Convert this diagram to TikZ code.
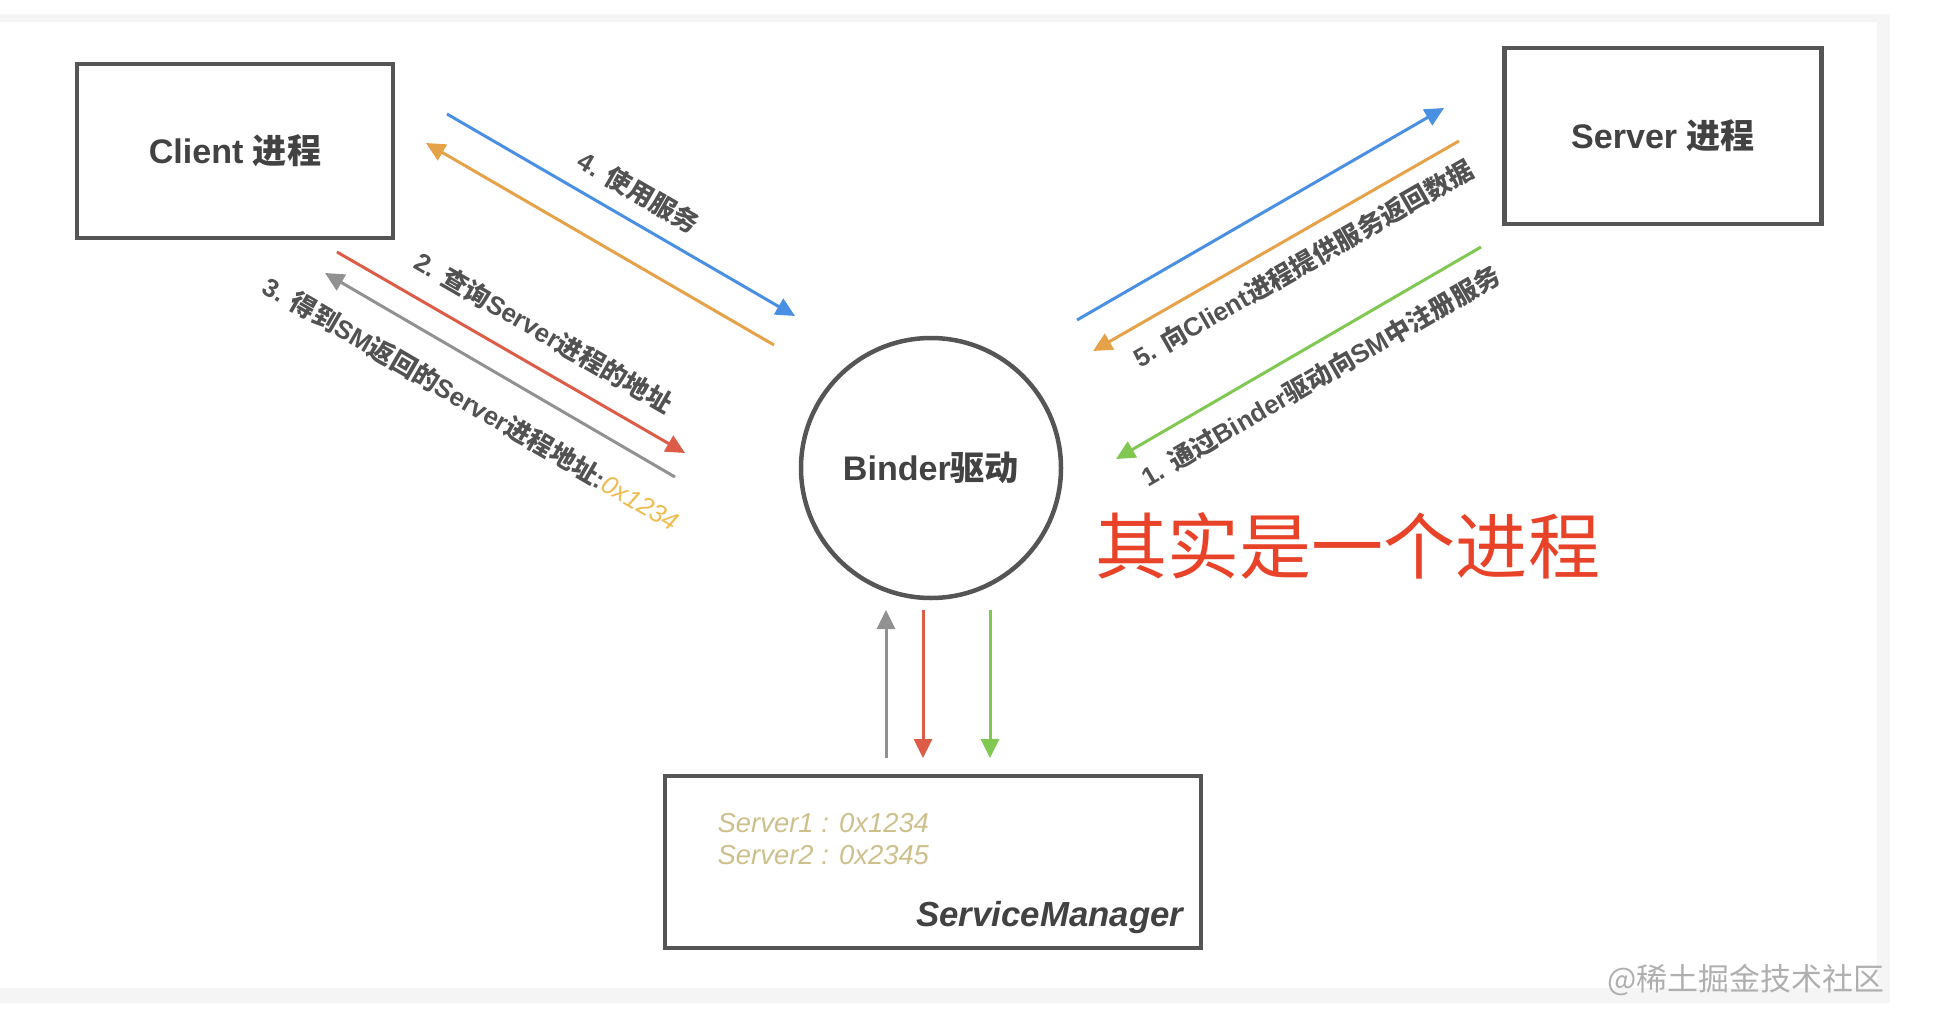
\documentclass[tikz,border=0pt]{standalone}
\usepackage{fontspec}
\setmainfont{Liberation Sans}
\newfontfamily\cjk{Noto Sans CJK SC}
\usetikzlibrary{arrows.meta}
\definecolor{boxGray}{RGB}{85,85,85}
\definecolor{textGray}{RGB}{66,66,66}
\definecolor{lblGray}{RGB}{82,82,82}
\definecolor{arrowBlue}{RGB}{74,144,226}
\definecolor{arrowOrange}{RGB}{230,162,72}
\definecolor{arrowRed}{RGB}{220,92,72}
\definecolor{arrowGray}{RGB}{145,145,145}
\definecolor{arrowGreen}{RGB}{128,200,82}
\definecolor{addrGold}{RGB}{238,188,80}
\definecolor{tableKhaki}{RGB}{206,192,140}
\definecolor{noteRed}{RGB}{232,66,40}
\definecolor{markGray}{RGB}{175,175,175}
\definecolor{frameGray}{RGB}{245,245,245}
\tikzset{
  procbox/.style={draw=boxGray,line width=0.45mm,font=\bfseries\fontsize{9.7}{11}\selectfont,text=textGray},
  flow/.style={line width=0.3mm,-{Triangle[length=1.9mm,width=1.8mm]}},
  flowlbl/.style={sloped,font=\bfseries\fontsize{7.35}{9}\selectfont,text=lblGray,inner xsep=0pt},
  smtext/.style={inner sep=0pt,font=\itshape\fontsize{7.8}{9}\selectfont,text=tableKhaki},
}
\begin{document}
\begin{tikzpicture}[x=0.1mm,y=-0.1mm]
\useasboundingbox (0,0) rectangle (1946,1018);
% screenshot frame
\fill[frameGray] (0,14) rectangle (1890,1003);
\fill[white] (0,22) rectangle (1877,988);
% processes
\node[procbox,minimum width=31.6mm,minimum height=17.4mm] (client) at (235,151) {Client {\cjk 进程}};
\node[procbox,minimum width=31.7mm,minimum height=17.6mm] (server) at (1663,136) {Server {\cjk 进程}};
\node[procbox,circle,minimum size=26mm] (binder) at (931,468) {Binder{\cjk 驱动}};
\node[procbox,minimum width=53.6mm,minimum height=17.2mm] (sm) at (933,862) {};
% ServiceManager contents
\node[smtext,anchor=west] (sm1) at (717,823) {Server1 : 0x1234};
\node[smtext,anchor=west] (sm2) at (717,855) {Server2 : 0x2345};
\node[inner sep=0pt,anchor=east,font=\bfseries\itshape\fontsize{9.9}{11}\selectfont,text=textGray] (smname) at (1184,917) {ServiceManager};
% arrow end points
\coordinate (c4s) at (447,114); \coordinate (c4e) at (795,316);
\coordinate (c5s) at (774,345); \coordinate (c5e) at (426,143);
\coordinate (c2s) at (337,252); \coordinate (c2e) at (685,453);
\coordinate (c3s) at (675,477); \coordinate (c3e) at (325,273);
\coordinate (s4s) at (1077,320); \coordinate (s4e) at (1444,108);
\coordinate (s5s) at (1459,141); \coordinate (s5e) at (1093,351);
\coordinate (s1s) at (1481,247); \coordinate (s1e) at (1116,459);
\coordinate (m3s) at (886,758); \coordinate (m3e) at (886,610);
\coordinate (m2s) at (923,610); \coordinate (m2e) at (923,758);
\coordinate (m1s) at (990,610); \coordinate (m1e) at (990,758);
% client side
\draw[flow,arrowBlue] (c4s) -- node[flowlbl,above,pos=0.51,inner ysep=4.2pt] {4. {\cjk 使用服务}} (c4e);
\draw[flow,arrowOrange] (c5s) -- (c5e);
\draw[flow,arrowRed] (c2s) -- node[flowlbl,above,pos=0.546,inner ysep=5.7pt] {2. {\cjk 查询}Server{\cjk 进程的地址}} (c2e);
\draw[flow,arrowGray] (c3s) -- node[flowlbl,below,pos=0.525,inner ysep=7.2pt] {3. {\cjk 得到}SM{\cjk 返回的}Server{\cjk 进程地址}:\textcolor{addrGold}{\mdseries\itshape 0x1234}} (c3e);
% server side
\draw[flow,arrowBlue] (s4s) -- (s4e);
\draw[flow,arrowOrange] (s5s) -- node[flowlbl,below,pos=0.464,inner ysep=4.2pt] {5. {\cjk 向}Client{\cjk 进程提供服务返回数据}} (s5e);
\draw[flow,arrowGreen] (s1s) -- node[flowlbl,below,pos=0.482,inner ysep=4.8pt] {1. {\cjk 通过}Binder{\cjk 驱动向}SM{\cjk 中注册服务}} (s1e);
% service manager side
\draw[flow,arrowGray] (m3s) -- (m3e);
\draw[flow,arrowRed] (m2s) -- (m2e);
\draw[flow,arrowGreen] (m1s) -- (m1e);
% notes
\node[anchor=west,inner sep=0pt,text=noteRed,font=\cjk\fontsize{20.5}{23}\selectfont] (note) at (1095,546) {其实是一个进程};
\node[anchor=west,inner sep=0pt,text=markGray,font=\cjk\fontsize{8.8}{10}\selectfont] (mark) at (1607,980) {@稀土掘金技术社区};
\end{tikzpicture}
\end{document}
